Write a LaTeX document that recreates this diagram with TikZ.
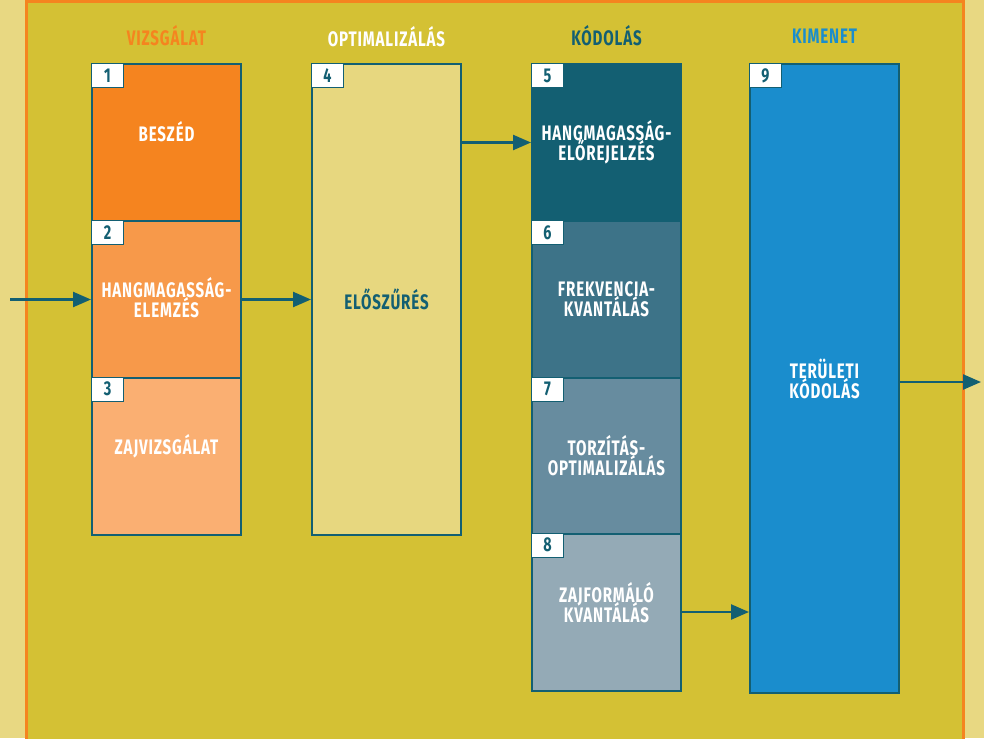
\documentclass[tikz,border=0pt]{standalone}
\usepackage{fontspec}
\setmainfont{Fira Sans}[FakeStretch=0.72, LetterSpace=4]
\usepackage{xcolor}
\usepackage{tikz}
\usetikzlibrary{arrows.meta, positioning}

\definecolor{hatter}{HTML}{E8D882}
\definecolor{panel}{HTML}{D4C134}
\definecolor{narancs}{HTML}{F5841F}
\definecolor{sotet}{HTML}{135F72}
\definecolor{kek}{HTML}{1A8DCD}
\definecolor{szin1}{HTML}{F5841F}
\definecolor{szin2}{HTML}{F7994A}
\definecolor{szin3}{HTML}{FAAF72}
\definecolor{szin4}{HTML}{E7D77F}
\definecolor{szin5}{HTML}{135F72}
\definecolor{szin6}{HTML}{3D7388}
\definecolor{szin7}{HTML}{678C9F}
\definecolor{szin8}{HTML}{94AAB6}

\begin{document}
\begin{tikzpicture}[
    x=1pt, y=-1pt,
    font=\bfseries\fontsize{21}{20}\selectfont,
    doboz/.style={draw=sotet, line width=2pt, minimum width=149pt,
                  minimum height=157pt, inner sep=0pt},
    szam/.style={draw=sotet, line width=1pt, fill=white, text=sotet,
                 minimum width=32pt, minimum height=24pt, inner sep=0pt,
                 anchor=north west, font=\bfseries\fontsize{20}{20}\selectfont},
    felirat/.style={text=white, align=center,
                    execute at begin node={\lineskiplimit=-30pt}},
    fejlec/.style={font=\bfseries\fontsize{21}{20}\selectfont},
    nyil/.style={draw=sotet, line width=2.4pt,
                 -{Triangle[length=18pt, width=15pt]}}
  ]

  % --- Hatter es keret ---
  \useasboundingbox[fill=hatter] (0,0) rectangle (984,738);
  \fill[panel] (26,1.5) rectangle (963,745);
  \draw[narancs, line width=3pt] (26,745) -- (26,1.5) -- (963,1.5) -- (963,745);

  % --- Vizsgalat ---
  \node[doboz, fill=szin1] (b1) at (166.5,142.5) {};
  \node[doboz, fill=szin2] (b2) at (166.5,299.5) {};
  \node[doboz, fill=szin3] (b3) at (166.5,456)   {};
  \node[szam] (n1) at (b1.north west) {1};
  \node[szam] (n2) at (b2.north west) {2};
  \node[szam] (n3) at (b3.north west) {3};
  \node[felirat] (t1) at ([yshift=11pt]b1.center) {BESZÉD};
  \node[felirat] (t2) at ([yshift=2pt]b2.center) {HANGMAGASSÁG-\\ELEMZÉS};
  \node[felirat] (t3) at ([yshift=10pt]b3.center) {ZAJVIZSGÁLAT};

  % --- Optimalizalas ---
  \node[doboz, fill=szin4, minimum height=470pt] (b4) at (386.5,299.5) {};
  \node[szam] (n4) at (b4.north west) {4};
  \node[felirat, text=sotet] (t4) at (b4.center) {ELŐSZŰRÉS};

  % --- Kodolas ---
  \node[doboz, fill=szin5] (b5) at (606.5,142.5) {};
  \node[doboz, fill=szin6] (b6) at (606.5,299.5) {};
  \node[doboz, fill=szin7] (b7) at (606.5,456)   {};
  \node[doboz, fill=szin8] (b8) at (606.5,612)   {};
  \node[szam] (n5) at (b5.north west) {5};
  \node[szam] (n6) at (b6.north west) {6};
  \node[szam] (n7) at (b7.north west) {7};
  \node[szam] (n8) at (b8.north west) {8};
  \node[felirat] (t5) at (b5.center) {HANGMAGASSÁG-\\ELŐREJELZÉS};
  \node[felirat] (t6) at (b6.center) {FREKVENCIA-\\KVANTÁLÁS};
  \node[felirat] (t7) at (b7.center) {TORZÍTÁS-\\OPTIMALIZÁLÁS};
  \node[felirat] (t8) at ([yshift=9pt]b8.center) {ZAJFORMÁLÓ\\KVANTÁLÁS};

  % --- Kimenet ---
  \node[doboz, fill=kek, minimum height=629pt] (b9) at (824.5,378.5) {};
  \node[szam] (n9) at (b9.north west) {9};
  \node[felirat] (t9) at (b9.center) {TERÜLETI\\KÓDOLÁS};

  % --- Fejlecek ---
  \node[fejlec, text=narancs] (h1) at ([yshift=27pt]b1.north) {VIZSGÁLAT};
  \node[fejlec, text=white]   (h2) at ([yshift=27pt]b4.north) {OPTIMALIZÁLÁS};
  \node[fejlec, text=sotet]   (h3) at ([yshift=27pt]b5.north) {KÓDOLÁS};
  \node[fejlec, text=kek]     (h4) at ([yshift=27pt]b9.north) {KIMENET};

  % --- Nyilak ---
  \coordinate (be) at (10,299.5);
  \coordinate (ki) at (981,382);
  \draw[nyil] (be) -- (b2.west);
  \draw[nyil] (b2.east) -- (b4.west);
  \draw[nyil] (b4.east |- b5.west) -- (b5.west);
  \draw[nyil] (b8.east) -- (b8.east -| b9.west);
  \draw[nyil] (b9.east |- ki) -- (ki);
\end{tikzpicture}
\end{document}
